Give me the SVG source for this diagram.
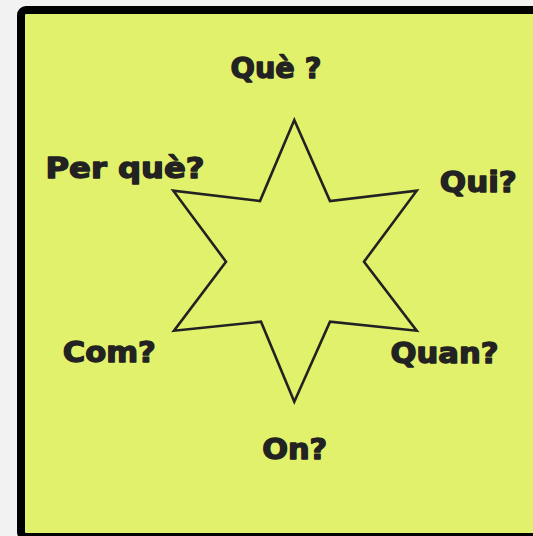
<svg xmlns="http://www.w3.org/2000/svg" width="533" height="536" viewBox="0 0 533 536">
<style>
.lbl{font-family:"DejaVu Sans","Liberation Sans",sans-serif;font-weight:bold;font-size:27.5px;fill:#222222;stroke:#222222;stroke-width:1.3px;stroke-linejoin:round}
</style>
<rect x="0" y="0" width="533" height="536" fill="#f2f2f2"/>
<rect id="frame" x="21" y="10" width="530" height="527" rx="5" fill="#e1f16b" stroke="#000000" stroke-width="8"/>
<g id="star">
<polygon points="294.3,120 330,201 416.7,190.7 364,261.7 416.7,330.7 330,321.7 294.3,401.7 261,321.7 174,330.7 226,261.7 173.3,190.7 260,201" fill="none" stroke="#222222" stroke-width="2.6" stroke-linejoin="miter"/>
</g>
<g id="que"><text class="lbl" x="230.5" y="78" textLength="91" lengthAdjust="spacingAndGlyphs">Què ?</text></g>
<g id="perque"><text class="lbl" x="45.5" y="177.5" textLength="159" lengthAdjust="spacingAndGlyphs">Per què?</text></g>
<g id="qui"><text class="lbl" x="439.8" y="191.7" textLength="77" lengthAdjust="spacingAndGlyphs">Qui?</text></g>
<g id="com"><text class="lbl" x="62.8" y="361.7" textLength="93" lengthAdjust="spacingAndGlyphs">Com?</text></g>
<g id="quan"><text class="lbl" x="390.5" y="363.3" textLength="108" lengthAdjust="spacingAndGlyphs">Quan?</text></g>
<g id="on"><text class="lbl" x="262.2" y="459.3" textLength="65" lengthAdjust="spacingAndGlyphs">On?</text></g>
</svg>
